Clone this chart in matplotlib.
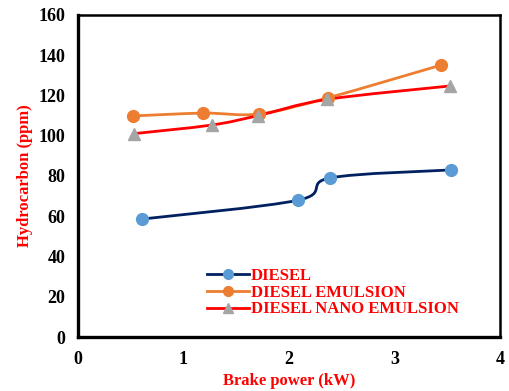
import numpy as np
import matplotlib.pyplot as plt
from matplotlib.path import Path
from matplotlib.patches import PathPatch
from matplotlib.lines import Line2D

plt.rcParams['font.family'] = 'Liberation Serif'
plt.rcParams['font.weight'] = 'bold'

# brake power (kW) and hydrocarbon (ppm)
diesel_x = [0.61, 2.09, 2.39, 3.54]
diesel_y = [58.6, 68.0, 79.0, 83.0]
emul_x = [0.52, 1.19, 1.72, 2.37, 3.44]
emul_y = [109.8, 111.2, 110.8, 118.8, 135.0]
nano_x = [0.53, 1.27, 1.71, 2.36, 3.53]
nano_y = [101.0, 105.3, 110.0, 118.0, 124.7]

labels = ['DIESEL', 'DIESEL EMULSION', 'DIESEL NANO EMULSION']
line_colors = ['#002060', '#ED7D31', '#FF0000']
marker_colors = ['#5B9BD5', '#ED7D31', '#A5A5A5']
markers = ['o', 'o', '^']


def smooth_path(xs, ys):
    # Bezier segments through the points, tangents from the neighbours
    pts = np.column_stack([xs, ys])
    n = len(pts)
    verts = [pts[0]]
    codes = [Path.MOVETO]
    for i in range(n - 1):
        p0 = pts[i - 1] if i > 0 else pts[i]
        p1 = pts[i]
        p2 = pts[i + 1]
        p3 = pts[i + 2] if i + 2 < n else pts[i + 1]
        c1 = p1 + (p2 - p0) / 6.0
        c2 = p2 - (p3 - p1) / 6.0
        verts += [c1, c2, p2]
        codes += [Path.CURVE4] * 3
    return Path(verts, codes)


fig = plt.figure(figsize=(5.09, 3.91), dpi=100)
ax = fig.add_axes([0.153, 0.138, 0.829, 0.824])

series = [(diesel_x, diesel_y), (emul_x, emul_y), (nano_x, nano_y)]
for (xs, ys), lc, mc, mk in zip(series, line_colors, marker_colors, markers):
    ax.add_patch(PathPatch(smooth_path(xs, ys), facecolor='none',
                           edgecolor=lc, linewidth=2.0, zorder=2))
    ax.plot(xs, ys, linestyle='none', marker=mk, markersize=8.5,
            markerfacecolor=mc, markeredgecolor=mc, zorder=3)

ax.set_xlim(0, 4)
ax.set_ylim(0, 160)
ax.set_xticks([0, 1, 2, 3, 4])
ax.set_yticks(np.arange(0, 161, 20))
ax.tick_params(axis='x', length=0, labelsize=13, pad=10)
ax.tick_params(axis='y', length=0, labelsize=13, pad=9)
for lab in ax.get_xticklabels() + ax.get_yticklabels():
    lab.set_fontweight('bold')

for side in ['left', 'bottom', 'right', 'top']:
    ax.spines[side].set_linewidth(2.4 if side in ('left', 'bottom') else 1.8)
    ax.spines[side].set_color('black')

ax.set_xlabel('Brake power (kW)', color='#FF0000', fontsize=12,
              fontweight='bold', labelpad=4)
ax.set_ylabel('Hydrocarbon (ppm)', color='#FF0000', fontsize=12,
              fontweight='bold', labelpad=4)

handles = [Line2D([], [], color=lc, linewidth=2.0, marker=mk, markersize=7,
                  markerfacecolor=mc, markeredgecolor=mc)
           for lc, mc, mk in zip(line_colors, marker_colors, markers)]
leg = ax.legend(handles, labels, loc='upper left', bbox_to_anchor=(0.291, 0.236),
                frameon=False, fontsize=12, handlelength=2.5, handletextpad=0.1,
                labelspacing=0.05, borderaxespad=0, numpoints=1)
for t in leg.get_texts():
    t.set_color('#FF0000')
    t.set_fontweight('bold')

plt.savefig('out.png', dpi=100)
